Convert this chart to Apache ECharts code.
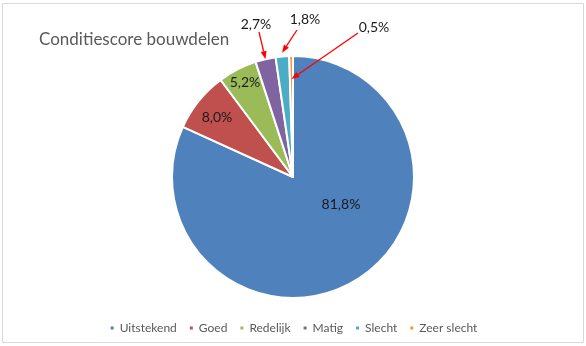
<!DOCTYPE html>
<html>
<head>
<meta charset="utf-8">
<script src="https://cdn.jsdelivr.net/npm/echarts@6/dist/echarts.min.js"></script>
<style>
  html, body { margin: 0; padding: 0; background: #fff; }
  #chart { width: 586px; height: 346px; }
</style>
</head>
<body>
<div id="chart"></div>
<script>
// Conditiescore bouwdelen — share per condition class (%)
const categories = ['Uitstekend', 'Goed', 'Redelijk', 'Matig', 'Slecht', 'Zeer slecht'];
const shares = [81.8, 8.0, 5.2, 2.7, 1.8, 0.5];
const colors = ['#4F81BD', '#C0504D', '#9BBB59', '#8064A2', '#4BACC6', '#F79646'];

// pie geometry (px)
const CX = 293, CY = 177, R = 121;

// label centres per slice
const labelPos = [[341, 204], [217, 117], [245, 82], [256, 24], [305, 19], [374, 27]];

// red callout arrows for the thin slices: start point and target radius factor
const callouts = [
  { i: 3, from: [259, 32], rf: 1.0 },
  { i: 4, from: [297, 30], rf: 1.03 },
  { i: 5, from: [358, 33], rf: 0.81 }
];

const fmt = v => v.toFixed(1).replace('.', ',') + '%';
const total = shares.reduce((a, b) => a + b, 0);

function slicePoint(i, r) {
  let before = 0;
  for (let k = 0; k < i; k++) before += shares[k];
  const f = (before + shares[i] / 2) / total;
  const t = f * Math.PI * 2;
  return [CX + r * Math.sin(t), CY - r * Math.cos(t)];
}

const arrows = [];
callouts.forEach(c => {
  const p = slicePoint(c.i, R * c.rf);
  const s = c.from;
  const dx = p[0] - s[0], dy = p[1] - s[1];
  const len = Math.hypot(dx, dy);
  const ux = dx / len, uy = dy / len;
  const L = 8, W = 6;
  const bx = p[0] - ux * L, by = p[1] - uy * L;
  arrows.push({
    type: 'line', silent: true, z: 10,
    shape: { x1: s[0], y1: s[1], x2: bx, y2: by },
    style: { stroke: '#FF0000', lineWidth: 1.3 }
  });
  arrows.push({
    type: 'polygon', silent: true, z: 10,
    shape: { points: [[p[0], p[1]], [bx - uy * W / 2, by + ux * W / 2], [bx + uy * W / 2, by - ux * W / 2]] },
    style: { fill: '#FF0000' }
  });
});

const chart = echarts.init(document.getElementById('chart'), null, { renderer: 'canvas' });
chart.setOption({
  animation: false,
  backgroundColor: '#fff',
  color: colors,
  title: {
    text: 'Conditiescore bouwdelen',
    left: 34, top: 26,
    textStyle: { fontFamily: 'Lato', fontSize: 17, fontWeight: 'normal', color: '#595959' }
  },
  legend: {
    data: categories,
    top: 317, left: 'center',
    icon: 'rect', itemWidth: 5, itemHeight: 5, itemGap: 11,
    textStyle: { fontFamily: 'Lato', fontSize: 12, color: '#595959' }
  },
  graphic: [
    {
      type: 'rect', silent: true,
      shape: { x: 2.5, y: 3.5, width: 581, height: 339 },
      style: { fill: 'none', stroke: '#D9D9D9', lineWidth: 1 }
    }
  ].concat(arrows),
  series: [{
    type: 'pie',
    center: [CX, CY],
    radius: R,
    startAngle: 90,
    clockwise: true,
    avoidLabelOverlap: false,
    emphasis: { disabled: true },
    itemStyle: { borderColor: '#fff', borderWidth: 2 },
    label: {
      show: true,
      position: 'inside',
      formatter: p => fmt(p.value),
      fontFamily: 'Lato', fontSize: 14, color: '#1A1A1A'
    },
    labelLine: { show: false },
    labelLayout: p => ({ x: labelPos[p.dataIndex][0], y: labelPos[p.dataIndex][1], align: 'center', verticalAlign: 'middle' }),
    data: categories.map((c, i) => ({ name: c, value: shares[i] }))
  }]
});
</script>
</body>
</html>
